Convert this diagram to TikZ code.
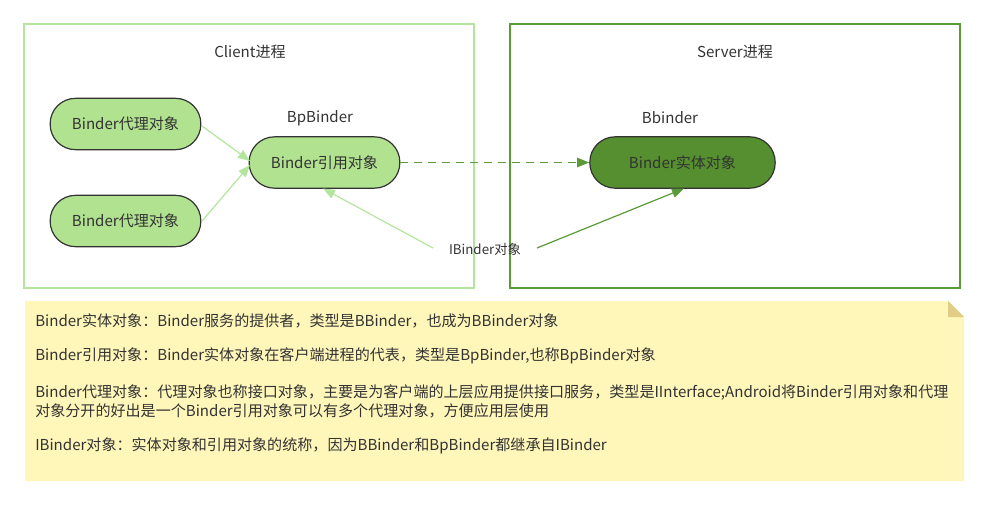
\documentclass[tikz,border=0pt]{standalone}
\usepackage{fontspec}
\setmainfont{Noto Sans CJK SC}
\usetikzlibrary{arrows.meta}
\definecolor{lfill}{HTML}{B1E290}
\definecolor{dfill}{HTML}{568F2F}
\definecolor{lborder}{HTML}{B3E59E}
\definecolor{dborder}{HTML}{5A9A38}
\definecolor{txt}{HTML}{333333}
\definecolor{notefill}{HTML}{FFF6BA}
\definecolor{foldc}{HTML}{E3CC85}
\tikzset{
  px/.style={x=0.75pt,y=-0.75pt},
  pill/.style={draw=txt, line width=0.9pt, rounded corners=19pt, minimum width=113pt, minimum height=38.5pt, inner sep=0pt, text=txt, font=\fontsize{11.3}{13}\selectfont},
  lbl/.style={text=txt, inner sep=0pt, font=\fontsize{11.3}{13}\selectfont},
  lightarrow/.style={draw=lborder, line width=0.9pt, -{Triangle[length=9pt,width=7pt]}},
  darkarrow/.style={draw=dborder, line width=0.9pt, -{Triangle[length=9pt,width=7pt]}},
}
\begin{document}
\begin{tikzpicture}[px]
\useasboundingbox (0,0) rectangle (989,506);
% process boxes
\draw[lborder, line width=1pt] (24,24) rectangle (474,288);
\draw[dborder, line width=1pt] (510,24) rectangle (960,288);
\node[lbl] (clientlbl) at (250,52) {Client进程};
\node[lbl] (serverlbl) at (735,52) {Server进程};
% nodes
\node[pill, fill=lfill] (proxy1) at (125.5,124) {Binder代理对象};
\node[pill, fill=lfill] (proxy2) at (125.5,221) {Binder代理对象};
\node[pill, fill=lfill] (ref) at (324.5,162.5) {Binder引用对象};
\node[lbl] (bplbl) at (320,118) {BpBinder};
\node[pill, fill=dfill, minimum width=139pt] (entity) at (682.5,162.5) {Binder实体对象};
\node[lbl] (bblbl) at (670,118) {Bbinder};
\node[text=txt, inner sep=0pt, font=\fontsize{10}{12}\selectfont] (ib) at (485,249) {IBinder对象};
% connectors
\coordinate (p1e) at (202,126);
\coordinate (p2e) at (202,221);
\coordinate (refin1) at (250,161);
\coordinate (refin2) at (250,165);
\draw[lightarrow] (p1e) -- (refin1);
\draw[lightarrow] (p2e) -- (refin2);
\coordinate (ibl) at (433,248);
\coordinate (ibr) at (537,248);
\coordinate (refb) at (323,188.5);
\coordinate (entb) at (684,188.5);
\draw[lightarrow] (ibl) -- (refb);
\draw[darkarrow] (ibr) -- (entb);
\draw[darkarrow, dash pattern=on 6pt off 4.5pt] (ref.east) -- (entity.west);
% note
\fill[notefill] (25,301) -- (948,301) -- (964,317) -- (964,481) -- (25,481) -- cycle;
\fill[foldc] (948,301) -- (964,317) -- (948,317) -- cycle;
\begin{scope}[every node/.style={anchor=west, text=txt, inner sep=0pt, font=\fontsize{11.3}{13.5}\selectfont}]
\node (l1) at (35,321) {Binder实体对象：Binder服务的提供者，类型是BBinder，也成为BBinder对象};
\node (l2) at (35,356) {Binder引用对象：Binder实体对象在客户端进程的代表，类型是BpBinder,也称BpBinder对象};
\node (l3) at (35,393) {Binder代理对象：代理对象也称接口对象，主要是为客户端的上层应用提供接口服务，类型是IInterface;Android将Binder引用对象和代理};
\node (l4) at (35,411) {对象分开的好出是一个Binder引用对象可以有多个代理对象，方便应用层使用};
\node (l5) at (35,446) {IBinder对象：实体对象和引用对象的统称，因为BBinder和BpBinder都继承自IBinder};
\end{scope}
\end{tikzpicture}
\end{document}
